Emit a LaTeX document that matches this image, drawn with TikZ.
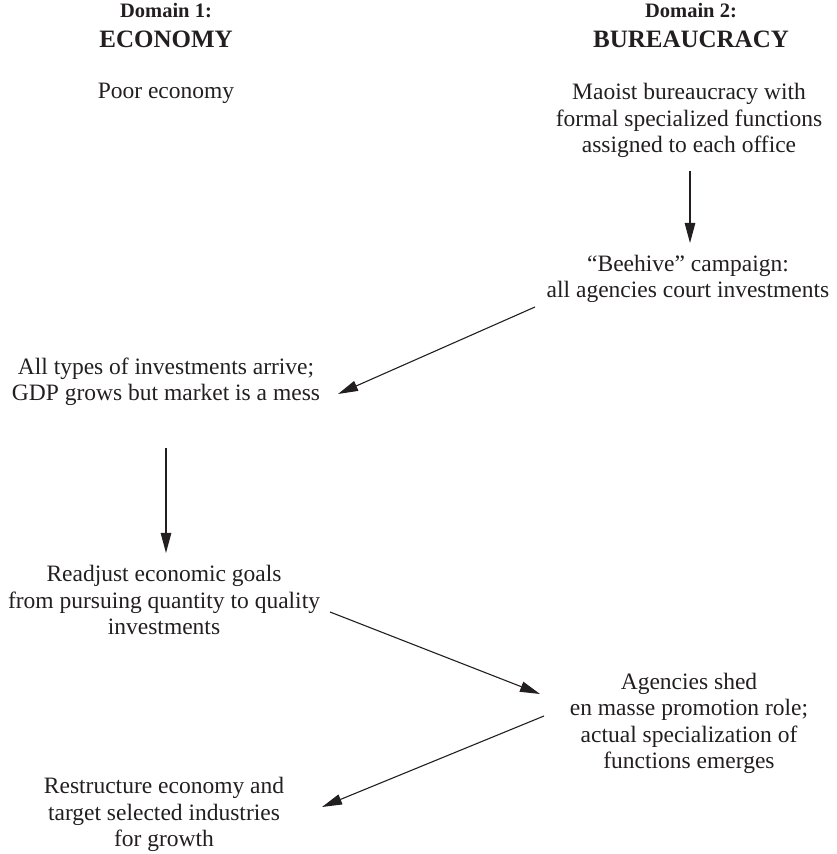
\documentclass[tikz,border=0pt]{standalone}
\usepackage{fontspec}
\setmainfont{Liberation Serif}
\usetikzlibrary{arrows.meta}
\definecolor{ink}{HTML}{231F20}
\begin{document}
\begin{tikzpicture}[x=1pt,y=1pt,
  every node/.style={inner sep=0pt, outer sep=0pt, text=ink, anchor=base},
  domainlabel/.style={font=\fontsize{20.5}{24}\selectfont\bfseries},
  domaintitle/.style={font=\fontsize{25}{29}\selectfont\bfseries},
  stage/.style={align=center, font=\fontsize{23.5}{26.6}\selectfont},
  link/.style={draw=ink, line width=1.1pt, -{Triangle[length=20pt,width=10.5pt]}}]
\useasboundingbox (0,0) rectangle (837,854);

% column headings
\node[domainlabel] (d1) at (166,836) {Domain 1:};
\node[domaintitle] (e1) at (166,806) {ECONOMY};
\node[domainlabel] (d2) at (691,836) {Domain 2:};
\node[domaintitle] (e2) at (691,806) {BUREAUCRACY};

% economy column (each node sits on the baseline of its last line)
\node[stage] (poor) at (166,755) {Poor economy};
\node[stage] (all)  at (166,453) {All types of investments arrive;\\GDP grows but market is a mess};
\node[stage] (read) at (164,219) {Readjust economic goals\\from pursuing quantity to quality\\investments};
\node[stage] (rest) at (164,7)   {Restructure economy and\\target selected industries\\for growth};

% bureaucracy column
\node[stage] (mao)  at (689,701) {Maoist bureaucracy with\\formal specialized functions\\assigned to each office};
\node[stage] (bee)  at (688,556) {``Beehive'' campaign:\\all agencies court investments};
\node[stage] (agen) at (689,85)  {Agencies shed\\en masse promotion role;\\actual specialization of\\functions emerges};

% sequence of stages
\draw[link] ([shift={(1,-18)}]mao.base) -- ([shift={(2,55)}]bee.base);
\draw[link] ([shift={(-153,-9)}]bee.base) -- ([shift={(172,7)}]all.base);
\draw[link] ([shift={(0,-47)}]all.base) -- ([shift={(2,82)}]read.base);
\draw[link] ([shift={(166,23)}]read.base) -- ([shift={(-149,75)}]agen.base);
\draw[link] ([shift={(-145,53)}]agen.base) -- ([shift={(158,40)}]rest.base);
\end{tikzpicture}
\end{document}
